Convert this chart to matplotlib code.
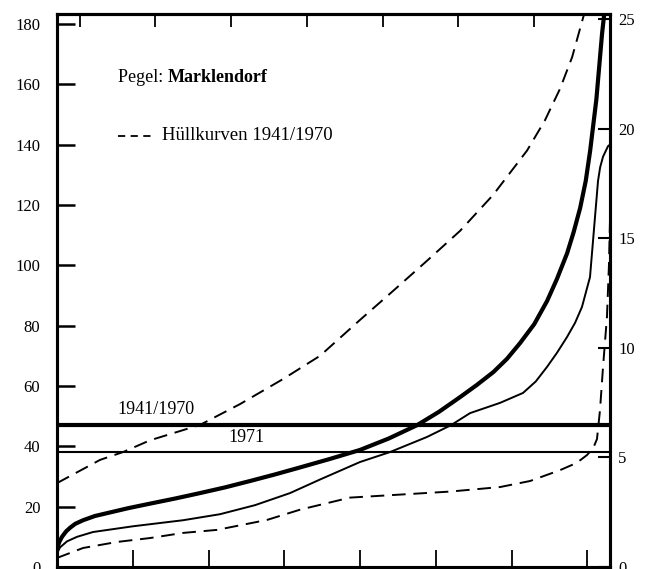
import matplotlib
matplotlib.use("Agg")
import matplotlib.pyplot as plt
from matplotlib.lines import Line2D

# ---- data (days of year vs. discharge/stage) ----
mean_days = [0, 1.5, 3.3, 6, 8.6, 12, 17.2, 25, 34.3, 47, 61.4, 78, 94.4, 111, 127.4, 144,
             160.4, 180, 200, 219, 237.6, 252, 266, 277, 288, 297, 305.6, 315, 323.5,
             330, 336.7, 341, 345.3, 349, 351.9, 356, 359.8, 361.8]
mean_vals = [6, 8.3, 10, 11.8, 13, 14.3, 15.5, 16.9, 18, 19.5, 21, 22.7, 24.5, 26.4, 28.5, 30.7,
             33, 35.8, 38.8, 42.6, 47, 51.4, 56.3, 60.3, 64.6, 69, 74.2, 80.5, 88.2,
             95.5, 104, 111, 119, 128, 138, 155, 177, 186]

y1971_days = [0, 2, 6.6, 13.2, 23.8, 50.2, 83.2, 107.6, 130.7, 153.8, 173.6, 200, 219.8,
              244.2, 260, 272.6, 292.4, 307.6, 316, 323.4, 330, 336.6, 342, 346.5, 351.8,
              355.1, 357.1, 358.5, 360.4, 363.7, 365]
y1971_vals = [4.5, 6.5, 8.5, 10, 11.6, 13.5, 15.5, 17.5, 20.5, 24.5, 29, 34.8, 38.1,
              43.1, 47, 51, 54.4, 57.7, 61.5, 66.3, 71, 76.2, 81, 86.2, 96.1,
              116, 128, 132.5, 136, 139.5, 140]

upper_days = [0, 28.4, 43.6, 61.4, 94.4, 120.8, 149.2, 173.6, 200, 221.8, 244.2, 266,
              287.8, 310.2, 322, 332, 340, 347.2, 351.8]
upper_vals = [27.8, 35.5, 38.1, 42, 47.1, 54, 62.3, 70, 81.9, 91.5, 101.5, 111.4,
              123.3, 138, 148, 158.5, 169, 182, 190]

lower_days = [0, 17.2, 39.6, 61.4, 83.2, 105.6, 138.6, 160.4, 193.4, 226.4, 259.4,
              292.4, 312.2, 332, 343, 349.8, 354, 356.4, 358.4, 360.4, 363, 364.3, 365]
lower_vals = [3, 6.3, 8.3, 9.6, 11.3, 12.3, 15.6, 19, 23, 24, 25,
              26.5, 28.5, 32.1, 34.5, 37.1, 39.5, 42.4, 52, 66.3, 83, 100, 115]

mean_level = 47      # 1941/1970
level_1971 = 38

left_ticks = [0, 20, 40, 60, 80, 100, 120, 140, 160, 180]
right_ticks = [0, 5, 10, 15, 20, 25]
bottom_ticks = [50, 100, 150, 200, 250, 300, 350]
top_ticks = [15, 65, 115, 165, 215, 265, 315, 365]

plt.rcParams['font.family'] = ['Liberation Serif', 'DejaVu Serif']

fig = plt.figure(figsize=(6.46, 5.69), dpi=100)
ax = fig.add_axes([57/646, 1-567/569, (610-57)/646, (567-14)/569])
ax.set_xlim(0, 365)
ax.set_ylim(0, 183.3)

ax.plot(mean_days, mean_vals, color='black', lw=3.0, solid_joinstyle='round')
ax.plot(y1971_days, y1971_vals, color='black', lw=1.4, solid_joinstyle='round')
ax.plot(upper_days, upper_vals, color='black', lw=1.4, dashes=(7, 4))
ax.plot(lower_days, lower_vals, color='black', lw=1.4, dashes=(7, 4))
ax.axhline(mean_level, color='black', lw=3.0)
ax.axhline(level_1971, color='black', lw=1.5)

ax.text(40, mean_level + 2.5, '1941/1970', fontsize=13, ha='left', va='bottom')
ax.text(113, level_1971 + 2, '1971', fontsize=13, ha='left', va='bottom')

# legend / title texts
ax.text(0.11, 0.885, 'Pegel: ', transform=ax.transAxes, fontsize=13, ha='left', va='center')
ax.text(0.2, 0.885, 'Marklendorf', transform=ax.transAxes, fontsize=13,
        fontweight='bold', ha='left', va='center')
ax.add_line(Line2D([0.11, 0.175], [0.78, 0.78], transform=ax.transAxes,
                   color='black', lw=1.3, dashes=(4, 3)))
ax.text(0.19, 0.78, 'Hüllkurven 1941/1970', transform=ax.transAxes, fontsize=13.5,
        ha='left', va='center')

for s in ax.spines.values():
    s.set_linewidth(2.2)

ax.set_yticks(left_ticks)
ax.set_yticklabels([str(t) for t in left_ticks])
ax.set_xticks(bottom_ticks)
ax.set_xticklabels([])
ax.tick_params(axis='y', direction='in', length=13, width=1.8, labelsize=12, pad=12)
ax.tick_params(axis='x', direction='in', length=12, width=1.3)

top = ax.secondary_xaxis('top')
top.set_xticks(top_ticks)
top.set_xticklabels([])
top.tick_params(direction='in', length=9, width=1.3)
top.spines['top'].set_linewidth(2.2)

ax2 = ax.twinx()
ax2.set_ylim(0, 25.25)
ax2.set_yticks(right_ticks)
ax2.set_yticklabels([str(t) for t in right_ticks])
ax2.tick_params(axis='y', direction='in', length=9, width=1.5, labelsize=12, pad=6)
for s in ax2.spines.values():
    s.set_linewidth(2.2)

fig.savefig('out.png', dpi=100)
